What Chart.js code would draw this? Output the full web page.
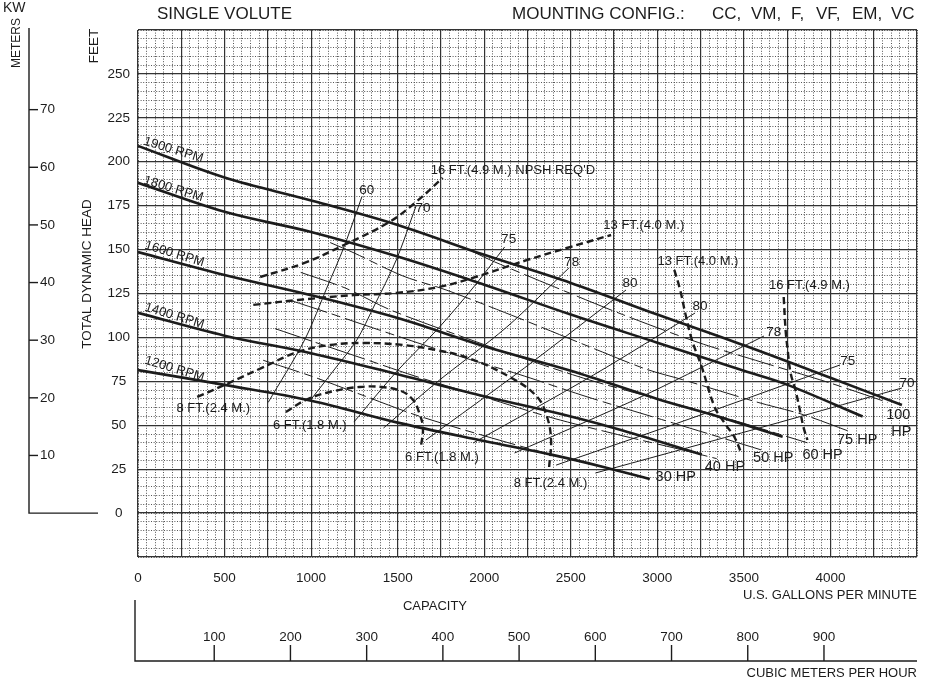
<!DOCTYPE html>
<html>
<head>
<meta charset="utf-8">
<title>Single volute</title>
<script src="https://cdn.jsdelivr.net/npm/chart.js@4.4.1/dist/chart.umd.min.js"></script>
<style>
body{margin:0;background:#fff;}
canvas{display:block;}
</style>
</head>
<body>
<canvas id="curvas" width="930" height="683"></canvas>
<script>
// curvas de velocidad  [gpm, pies]
const rpm1900 = [[0,209],[500,191],[1000,178],[1500,164],[2000,147],[2500,131],[3000,113],[3500,95.5],[4000,77],[4413,61.5]];
const rpm1800 = [[0,188],[500,171.5],[1000,160],[1500,146],[2000,130],[2500,113],[3000,97],[3500,81],[3752,73],[4186,55]];
const rpm1600 = [[0,148.6],[500,135.5],[1000,124],[1500,111],[2000,95],[2500,81],[3000,65],[3350,55],[3724,43.5]];
const rpm1400 = [[0,114],[500,101],[1000,91],[1500,79],[2000,66.5],[2500,55],[2800,47],[3257,33.3]];
const rpm1200 = [[0,81.4],[500,73],[1000,64],[1500,51.5],[2000,41],[2400,33],[2700,26],[2956,19.4]];

// potencia
const hp30  = [[723,87],[1000,78],[1300,67],[1600,56],[2000,44],[2400,33],[2700,26],[2956,19.5]];
const hp40  = [[792,105],[1000,98],[1300,88],[1600,78],[2000,66],[2400,54],[2800,44],[3100,37],[3343,31]];
const hp50  = [[883,121],[1100,114],[1400,104],[1800,91],[2200,79],[2600,66],[3000,54],[3300,45],[3599,36]];
const hp60  = [[940,137],[1200,128],[1450,116],[1800,103],[2200,89],[2600,76],[3000,65],[3400,54],[3867,40]];
const hp75  = [[1110,154],[1250,148],[1530,135],[1780,127],[2200,111],[2600,95],[2933,82],[3144,76],[3582,63],[3844,56],[4123,46]];
const hp100 = [[1930,149],[2060,143],[2400,129],[2800,113],[3240,97],[3600,86],[4000,74],[4330,63]];

// eficiencia
const ef60  = [[752,63],[962,98.5],[1093,128.7],[1190,151.5],[1293,180]];
const ef70  = [[997,64.4],[1150,83.7],[1264,98.5],[1361,117.3],[1492,144.1],[1606,174.8]];
const ef75a = [[1247,51.8],[1492,80.3],[1737,105.4],[1948,129.8],[2118,151.5]];
const ef78a = [[1418,48.4],[1720,74],[2130,105.9],[2489,139.5]];
const ef80a = [[1663,41.6],[2232,82.6],[2819,127]];
const ef80b = [[1936,39.9],[2631,78.6],[3218,113.9]];
const ef78b = [[2175,34.2],[2916,66.6],[3616,100.8]];
const ef75b = [[2415,27.3],[3200,54.1],[4055,84.3]];
const ef70b = [[2642,22.8],[3485,45.6],[4413,71.2]];

// NPSH requerido
const npsh16a = [[706,134.4],[962,142.4],[1190,152.6],[1452,165.7],[1606,177.1],[1760,190.8]];
const npsh13a = [[666,118.5],[923,121.3],[1247,124.1],[1492,125.3],[1737,128.7],[1930,133.8],[2249,144.1],[2477,150.9],[2733,158.3]];
const npsh8   = [[342,66.1],[524,74],[712,82.5],[923,91.7],[1110,95.7],[1304,96.8],[1532,95.7],[1720,92.8],[1908,88.3],[2158,76.9],[2306,66.1],[2363,54.7],[2386,41.6],[2375,26.2]];
const npsh6   = [[854,57.5],[980,64.9],[1133,69.5],[1281,71.8],[1407,71.8],[1520,69.5],[1589,64.4],[1623,57.5],[1646,48.4],[1634,37.6]];
const npsh13b = [[3098,138.4],[3132,127],[3161,113.9],[3200,98.5],[3257,83.1],[3331,60.4],[3388,51.3],[3445,43.3],[3485,34.2]];
const npsh16b = [[3730,123],[3741,104.2],[3753,92.8],[3770,79.7],[3798,70],[3827,57],[3844,49],[3867,41.6]];

// rotulos  [texto, gpm, pies]
const rpmTextos = [['1900 RPM',205,206.7],['1800 RPM',205,184.5],['1600 RPM',211,147.5],['1400 RPM',211,112.2],['1200 RPM',211,82]];
const efTextos = [['60',1321,183.9],['70',1646,173.7],['75',2141,156],['78',2506,142.9],['80',2842,131],['80',3246,117.9],['78',3673,103.1],['75',4100,86.6],['70',4442,74]];
const npshTextos = [["16 FT.(4.9 M.) NPSH REQ'D",1691,195.3],['13 FT.(4.0 M.)',2688,164],['13 FT.(4.0 M.)',3001,143.5],['16 FT.(4.9 M.)',3645,129.8],
  ['8 FT.(2.4 M.)',222,59.8],['6 FT.(1.8 M.)',780,50.1],['6 FT.(1.8 M.)',1543,31.9],['8 FT.(2.4 M.)',2170,17.1]];
const hpTextos = [['30 HP',2990,20.5],['40 HP',3274,26.2],['50 HP',3553,31.3],['60 HP',3838,33],['75 HP',4038,41.6],['100',4322,55.8],['HP',4351,46.1]];

// ejes secundarios
const metrosTicks = [10,20,30,40,50,60,70];
const m3hTicks = [100,200,300,400,500,600,700,800,900];

const FUENTE = "'Liberation Sans', Arial, sans-serif";
const PIE_POR_METRO = 3.2808;
const GPM_POR_M3H = 4.4029;
const TINTA = '#1c1c1c';

function serie(puntos, extra){
  return Object.assign({
    data: puntos.map(p => ({x: p[0], y: p[1]})),
    xAxisID: 'x', yAxisID: 'y',
    borderColor: TINTA, borderWidth: 1, pointRadius: 0, pointHoverRadius: 0,
    fill: false, tension: 0.35
  }, extra);
}
const grueso = {borderWidth: 2.6};
const punteado = {borderWidth: 2.4, borderDash: [7,4], tension: 0.4};
const potencia = {borderWidth: 1, borderDash: [38,5,9,5], tension: 0.3};
const fino = {borderWidth: 1, tension: 0.3};

const conjuntos = [
  serie(ef60, fino), serie(ef70, fino), serie(ef75a, fino), serie(ef78a, fino), serie(ef80a, fino),
  serie(ef80b, fino), serie(ef78b, fino), serie(ef75b, fino), serie(ef70b, fino),
  serie(hp30, potencia), serie(hp40, potencia), serie(hp50, potencia), serie(hp60, potencia), serie(hp75, potencia), serie(hp100, potencia),
  serie(npsh16a, punteado), serie(npsh13a, punteado), serie(npsh8, punteado), serie(npsh6, punteado), serie(npsh13b, punteado), serie(npsh16b, punteado),
  serie(rpm1900, grueso), serie(rpm1800, grueso), serie(rpm1600, grueso), serie(rpm1400, grueso), serie(rpm1200, grueso)
];

function escribir(ctx, t, px, py, align){
  ctx.textAlign = align;
  ctx.fillText(t, px, py);
}

const rotulos = {
  id: 'rotulos',
  afterDatasetsDraw(chart){
    const ctx = chart.ctx, x = chart.scales.x, y = chart.scales.y;
    ctx.save();
    ctx.fillStyle = TINTA;
    ctx.textBaseline = 'middle';
    ctx.font = '13px ' + FUENTE;
    rpmTextos.forEach(r => {
      ctx.save();
      ctx.translate(x.getPixelForValue(r[1]), y.getPixelForValue(r[2]));
      ctx.rotate(17 * Math.PI / 180);
      escribir(ctx, r[0], 0, 0, 'center');
      ctx.restore();
    });
    ctx.font = '13.5px ' + FUENTE;
    efTextos.forEach(r => escribir(ctx, r[0], x.getPixelForValue(r[1]), y.getPixelForValue(r[2]), 'center'));
    ctx.font = '13px ' + FUENTE;
    npshTextos.forEach(r => escribir(ctx, r[0], x.getPixelForValue(r[1]), y.getPixelForValue(r[2]), 'left'));
    ctx.font = '14.5px ' + FUENTE;
    hpTextos.forEach(r => escribir(ctx, r[0], x.getPixelForValue(r[1]), y.getPixelForValue(r[2]), 'left'));
    ctx.restore();
  },
  afterDraw(chart){
    const ctx = chart.ctx, x = chart.scales.x, y = chart.scales.y, area = chart.chartArea;
    ctx.save();
    ctx.strokeStyle = TINTA;
    ctx.fillStyle = TINTA;
    ctx.lineWidth = 1.4;
    ctx.textBaseline = 'middle';

    // eje de metros
    const y0 = y.getPixelForValue(0);
    ctx.beginPath();
    ctx.moveTo(29, area.top - 2);
    ctx.lineTo(29, y0);
    ctx.lineTo(98, y0);
    ctx.stroke();
    ctx.font = '13.5px ' + FUENTE;
    metrosTicks.forEach(m => {
      const py = y.getPixelForValue(m * PIE_POR_METRO);
      ctx.beginPath(); ctx.moveTo(29, py); ctx.lineTo(38, py); ctx.stroke();
      escribir(ctx, String(m), 40, py, 'left');
    });

    // eje de m3/h
    const base = 661;
    ctx.beginPath();
    ctx.moveTo(135, 600);
    ctx.lineTo(135, base);
    ctx.lineTo(area.right, base);
    ctx.stroke();
    m3hTicks.forEach(v => {
      const px = x.getPixelForValue(v * GPM_POR_M3H);
      ctx.beginPath(); ctx.moveTo(px, base - 16); ctx.lineTo(px, base); ctx.stroke();
      escribir(ctx, String(v), px, 637, 'center');
    });

    // textos de ejes
    ctx.font = '13px ' + FUENTE;
    escribir(ctx, 'U.S. GALLONS PER MINUTE', area.right, 595, 'right');
    escribir(ctx, 'CAPACITY', 435, 606, 'center');
    escribir(ctx, 'CUBIC METERS PER HOUR', area.right, 673, 'right');
    ctx.font = '14px ' + FUENTE;
    escribir(ctx, 'KW', 3, 8, 'left');
    ctx.font = '12px ' + FUENTE;
    [['METERS', 17, 43]].forEach(r => {
      ctx.save();
      ctx.translate(r[1], r[2]);
      ctx.rotate(-Math.PI / 2);
      escribir(ctx, r[0], 0, 0, 'center');
      ctx.restore();
    });
    ctx.font = '13.5px ' + FUENTE;
    [['FEET', 94, 46], ['TOTAL DYNAMIC HEAD', 87, 274]].forEach(r => {
      ctx.save();
      ctx.translate(r[1], r[2]);
      ctx.rotate(-Math.PI / 2);
      escribir(ctx, r[0], 0, 0, 'center');
      ctx.restore();
    });

    // titulos
    ctx.font = '17px ' + FUENTE;
    escribir(ctx, 'SINGLE VOLUTE', 157, 14, 'left');
    escribir(ctx, 'MOUNTING CONFIG.:', 512, 14, 'left');
    [['CC,', 712], ['VM,', 751], ['F,', 791], ['VF,', 816], ['EM,', 852], ['VC', 891]].forEach(r => escribir(ctx, r[0], r[1], 14, 'left'));
    ctx.restore();
  }
};

function ejeMenor(pos, min, max, paso){
  return {
    type: 'linear', position: pos, min: min, max: max,
    ticks: {display: false, stepSize: paso, autoSkip: false},
    grid: {color: '#555', lineWidth: 1, drawTicks: false, z: -2},
    border: {display: false, dash: [1, 1.6]},
    afterFit: s => { if (pos === 'left') s.width = 0; else s.height = 0; }
  };
}

new Chart(document.getElementById('curvas'), {
  type: 'line',
  data: {datasets: conjuntos},
  plugins: [rotulos],
  options: {
    responsive: false,
    animation: false,
    events: [],
    layout: {padding: {top: 30, right: 2, left: 0, bottom: 0}},
    plugins: {legend: {display: false}, tooltip: {enabled: false}},
    scales: {
      x: {
        type: 'linear', position: 'bottom', min: 0, max: 4500,
        ticks: {stepSize: 250, autoSkip: false, maxRotation: 0, padding: 13, color: TINTA,
          font: {family: FUENTE, size: 13.5},
          callback: v => (v % 500 === 0 && v <= 4000) ? String(v) : ''},
        grid: {color: '#333', lineWidth: 1.2, drawTicks: false},
        border: {display: false},
        afterFit: s => { s.height = 126; }
      },
      x2: ejeMenor('bottom', 0, 4500, 50),
      y: {
        type: 'linear', position: 'left', min: -25, max: 275,
        ticks: {stepSize: 25, autoSkip: false, padding: 8, crossAlign: 'center', color: TINTA,
          font: {family: FUENTE, size: 13.5},
          callback: v => (v >= 0 && v <= 250) ? String(v) : ''},
        grid: {color: '#333', lineWidth: 1.2, drawTicks: false},
        border: {display: false},
        afterFit: s => { s.width = 138; }
      },
      y2: ejeMenor('left', -25, 275, 5)
    }
  }
});
</script>
</body>
</html>
